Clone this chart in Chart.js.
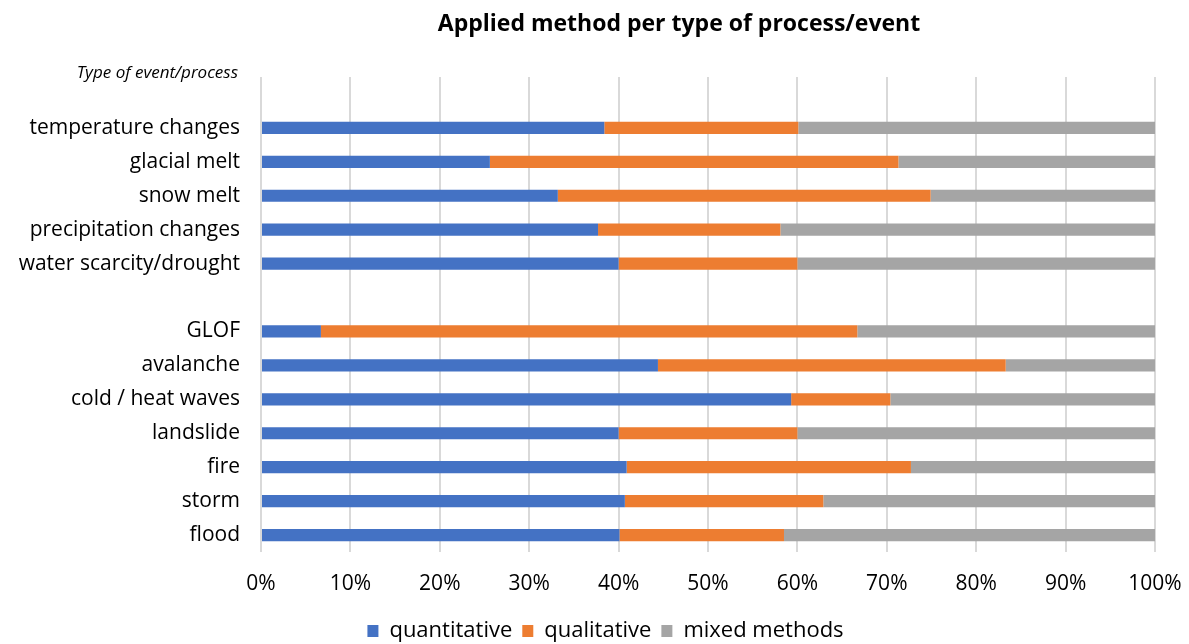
<!DOCTYPE html>
<html>
<head>
<meta charset="utf-8">
<script src="https://cdn.jsdelivr.net/npm/chart.js@4.4.0/dist/chart.umd.min.js"></script>
<style>
  html, body { margin: 0; padding: 0; background: #fff; }
  #wrap { width: 1189px; height: 644px; }
</style>
</head>
<body>
<div id="wrap"><canvas id="methodsChart"></canvas></div>
<script>
// Категории (пустые строки дают промежутки как в оригинале)
const categories = [
    ' ',
    'temperature changes',
    'glacial melt',
    'snow melt',
    'precipitation changes',
    'water scarcity/drought',
    '  ',
    'GLOF',
    'avalanche',
    'cold / heat waves',
    'landslide',
    'fire',
    'storm',
    'flood'
];

// Доли методов, %
const quantitative = [null, 38.4, 25.6, 33.2, 37.7, 40.0, null, 6.7, 44.4, 59.3, 40.0, 40.9, 40.7, 40.1];
const qualitative  = [null, 21.7, 45.7, 41.7, 20.4, 20.0, null, 60.0, 38.9, 11.1, 20.0, 31.8, 22.2, 18.4];
const mixedMethods = [null, 39.9, 28.7, 25.1, 41.9, 40.0, null, 33.3, 16.7, 29.6, 40.0, 27.3, 37.1, 41.5];

const xTicks = [0, 10, 20, 30, 40, 50, 60, 70, 80, 90, 100];

const chartTitle = 'Applied method per type of process/event';
const axisNote = 'Type of event/process';

const FONT = '"Open Sans", "Liberation Sans", sans-serif';

// Заголовок и подпись над осью категорий
const headerPlugin = {
    id: 'headerText',
    afterLayout(chart) {
        // сдвиг легенды вправо, как в оригинале
        chart.legend.left += 28;
        chart.legend.right += 28;
    },
    afterDraw(chart) {
        const ctx = chart.ctx;
        const area = chart.chartArea;
        ctx.save();
        ctx.fillStyle = '#000';
        ctx.textBaseline = 'middle';
        ctx.font = 'bold 23px ' + FONT;
        ctx.textAlign = 'center';
        ctx.fillText(chartTitle, 679, 24);
        ctx.font = 'italic 17px ' + FONT;
        ctx.textAlign = 'right';
        ctx.fillText(axisNote, area.left - 23, area.top - 4);
        ctx.restore();
    }
};

const ctx = document.getElementById('methodsChart').getContext('2d');
new Chart(ctx, {
    type: 'bar',
    data: {
        labels: categories,
        datasets: [
            { label: 'quantitative', data: quantitative, backgroundColor: '#4472C4' },
            { label: 'qualitative', data: qualitative, backgroundColor: '#ED7D31' },
            { label: 'mixed methods', data: mixedMethods, backgroundColor: '#A5A5A5' }
        ]
    },
    options: {
        responsive: true,
        maintainAspectRatio: false,
        animation: false,
        indexAxis: 'y',
        layout: { padding: { top: 77, right: 34, left: 0, bottom: -8 } },
        datasets: {
            bar: { categoryPercentage: 1, barPercentage: 0.36 }
        },
        scales: {
            x: {
                stacked: true,
                min: 0,
                max: 100,
                afterFit: scale => {
                    scale.height = 58;
                    scale.paddingLeft = 0;
                    scale.paddingRight = 0;
                },
                afterBuildTicks: scale => { scale.ticks = xTicks.map(v => ({ value: v })); },
                grid: { color: '#d9d9d9', lineWidth: 2, drawTicks: false },
                border: { display: false },
                ticks: {
                    padding: 19,
                    color: '#000',
                    font: { family: FONT, size: 21 },
                    callback: v => v + '%'
                }
            },
            y: {
                stacked: true,
                afterFit: scale => { scale.width = 261; },
                grid: { display: false, drawTicks: false, tickLength: 0 },
                border: { display: false },
                ticks: {
                    padding: 21,
                    color: '#000',
                    font: { family: FONT, size: 21 }
                }
            }
        },
        plugins: {
            legend: {
                position: 'bottom',
                labels: {
                    color: '#000',
                    boxWidth: 11,
                    boxHeight: 12,
                    padding: 10,
                    font: { family: FONT, size: 22 }
                }
            },
            tooltip: { enabled: false }
        }
    },
    plugins: [headerPlugin]
});
</script>
</body>
</html>
